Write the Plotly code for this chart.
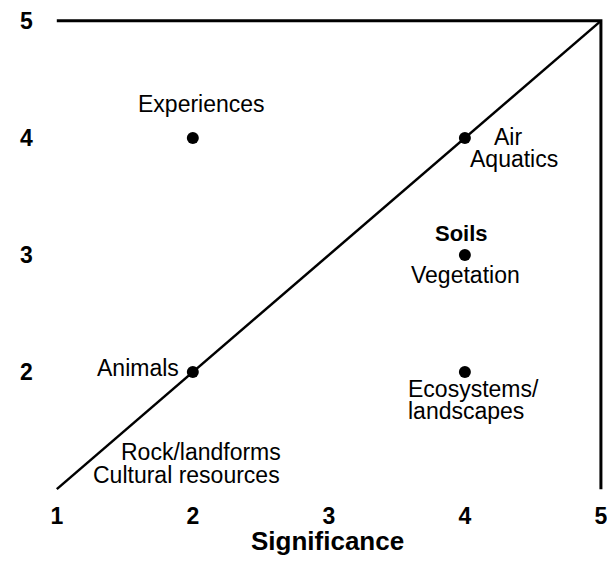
import plotly.graph_objects as go

# ---- data ----
point_x = [2, 4, 4, 2, 4]
point_y = [4, 4, 3, 2, 2]
diag_x = [1, 5]
diag_y = [1, 5]
frame_x = [1, 5, 5]
frame_y = [5, 5, 1]
x_tick_vals = [1, 2, 3, 4, 5]
x_tick_text = ["1", "2", "3", "4", "5"]
y_tick_vals = [2, 3, 4, 5]
y_tick_text = ["2", "3", "4", "5"]
x_title = "Significance"

# label text and the data point each label sits next to
label_text = ["Experiences", "Air", "Aquatics", "Soils", "Vegetation",
              "Ecosystems/", "landscapes", "Animals",
              "Rock/landforms", "Cultural resources"]
label_x = [2, 4, 4, 4, 4, 4, 4, 2, 2, 2]
label_y = [4, 4, 4, 3, 3, 2, 2, 2, 1, 1]

# ---- layout/style (pixel offsets of labels from their anchor) ----
label_dx = [8.5, 43, 49, -3, 1, 8.5, 1.5, -54.5, 8.5, -6]
label_dy = [34, 1, -21, 22, -20, -17, -39, 4, 37, 14]
label_bold = [False, False, False, True, False, False, False, False, False, False]
label_size = [23, 23, 23, 22, 23, 23, 23, 23, 23, 23]

# figure fits inside the page's 8px body margin
W, H = 599, 553
x_range = [0.95, 5.03]
y_range = [0.95, 5.05]
m_l, m_r, m_t, m_b = 42.2, 1.9, 7.15, 66.15

fig = go.Figure()
fig.add_trace(go.Scatter(x=frame_x, y=frame_y, mode="lines",
                         line=dict(color="black", width=3),
                         hoverinfo="skip", showlegend=False))
fig.add_trace(go.Scatter(x=diag_x, y=diag_y, mode="lines",
                         line=dict(color="black", width=2.5),
                         hoverinfo="skip", showlegend=False))
fig.add_trace(go.Scatter(x=point_x, y=point_y, mode="markers",
                         marker=dict(color="black", size=12),
                         cliponaxis=False, showlegend=False))

for t, x, y, dx, dy, b, s in zip(label_text, label_x, label_y, label_dx,
                                 label_dy, label_bold, label_size):
    fig.add_annotation(x=x, y=y, xref="x", yref="y",
                       text=("<b>%s</b>" % t) if b else t, showarrow=False,
                       xanchor="center", yanchor="middle",
                       xshift=dx, yshift=dy,
                       font=dict(family="Liberation Sans, Arial, sans-serif",
                                 size=s, color="black"))

fig.add_annotation(x=x_tick_vals[2], y=0, xref="x", yref="paper",
                   text="<b>" + x_title + "</b>", showarrow=False,
                   xanchor="center", yanchor="middle", xshift=-1.5, yshift=-46,
                   font=dict(family="Liberation Sans, Arial, sans-serif",
                             size=26, color="black"))

tick_font = dict(family="Liberation Sans Narrow, Arial Narrow, Liberation Sans, sans-serif",
                 size=23, color="black", weight="bold")
fig.update_xaxes(range=x_range, tickvals=x_tick_vals, ticktext=x_tick_text,
                 showgrid=False, zeroline=False, showline=False,
                 ticks="outside", ticklen=0, tickcolor="rgba(0,0,0,0)",
                 tickfont=tick_font, ticklabeloverflow="allow")
fig.update_yaxes(range=y_range, tickvals=y_tick_vals, ticktext=y_tick_text,
                 showgrid=False, zeroline=False, showline=False,
                 ticks="outside", ticklen=11.5, tickcolor="rgba(0,0,0,0)",
                 tickfont=tick_font, ticklabeloverflow="allow")
fig.update_layout(width=W, height=H, autosize=False,
                  margin=dict(l=m_l, r=m_r, t=m_t, b=m_b, pad=0),
                  plot_bgcolor="white", paper_bgcolor="white",
                  xaxis_automargin=False, yaxis_automargin=False)
fig.write_html("out.html")
